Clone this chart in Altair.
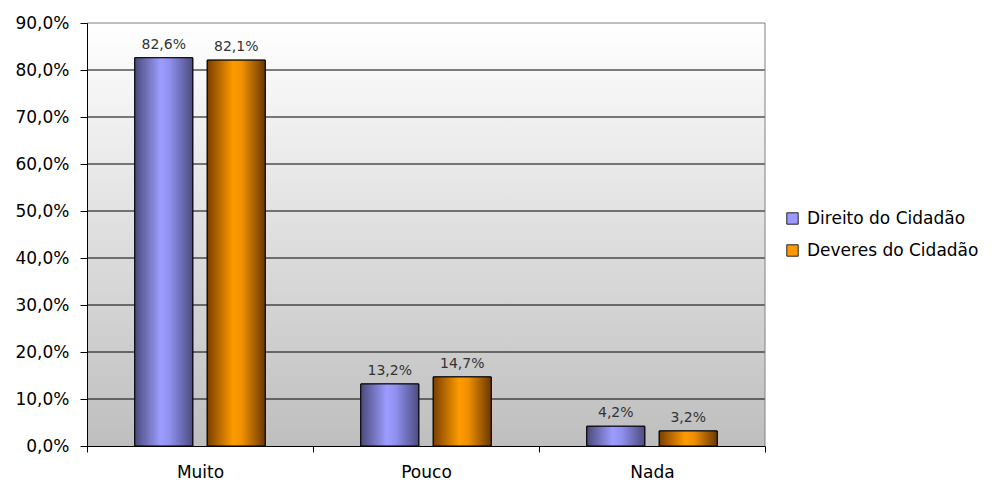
import altair as alt
import pandas as pd

categories = ["Muito", "Pouco", "Nada"]
series = ["Direito do Cidadão", "Deveres do Cidadão"]
direito = [82.6, 13.2, 4.2]
deveres = [82.1, 14.7, 3.2]
y_ticks = [0, 10, 20, 30, 40, 50, 60, 70, 80, 90]

W, H = 678, 423
FONT = "DejaVu Sans"

rows = []
for i, c in enumerate(categories):
    rows.append({"cat": c, "serie": series[0], "v": direito[i]})
    rows.append({"cat": c, "serie": series[1], "v": deveres[i]})
df = pd.DataFrame(rows)
grid_df = pd.DataFrame({"g": y_ticks[1:]})

x_enc = alt.X("cat:N", sort=categories, title=None,
              scale=alt.Scale(paddingInner=0, paddingOuter=0),
              axis=alt.Axis(labelAngle=0, tickBand="extent", tickSize=6, labelPadding=12,
                            labelFont=FONT, labelFontSize=17, labelColor="black",
                            domainColor="black", tickColor="black", grid=False, zindex=1))
y_scale = alt.Scale(domain=[0, 90], nice=False)
y_enc = alt.Y("v:Q", scale=y_scale, title=None,
              axis=alt.Axis(values=y_ticks, tickSize=7, labelPadding=11, labelFont=FONT,
                            labelFontSize=17, labelColor="black", domainColor="black",
                            tickColor="black", grid=False, zindex=1,
                            labelExpr="replace(format(datum.value, '.1f'), '.', ',') + '%'"))
xo = alt.XOffset("serie:N", sort=series, scale=alt.Scale(paddingInner=0.2, paddingOuter=0.66))

bg = alt.Chart(pd.DataFrame({"a": [0]})).mark_rect(
    color=alt.Gradient(gradient="linear", x1=0, x2=0, y1=0, y2=1,
                       stops=[alt.GradientStop(offset=0, color="#ffffff"),
                              alt.GradientStop(offset=1, color="#bebebe")])
).encode(x=alt.value(0), x2=alt.value(W), y=alt.value(0), y2=alt.value(H))

grid = alt.Chart(grid_df).mark_rule(strokeWidth=1).encode(
    y=alt.Y("g:Q", scale=y_scale),
    color=alt.condition("datum.g >= 90", alt.value("#808080"), alt.value("#000000")),
)
right_border = alt.Chart(pd.DataFrame({"a": [0]})).mark_rule(color="#808080").encode(
    x=alt.value(W), y=alt.value(0), y2=alt.value(H))

base_bars = alt.Chart(df).mark_bar(stroke="black", strokeWidth=1).encode(
    x=x_enc, xOffset=xo, y=y_enc,
    color=alt.Color("serie:N", sort=series, title=None,
                    scale=alt.Scale(domain=series, range=["#9999ff", "#ff9900"]),
                    legend=alt.Legend(orient="none", legendX=697, legendY=187,
                                      symbolType="square", symbolSize=130,
                                      symbolStrokeColor="#222222", symbolStrokeWidth=1,
                                      labelFont=FONT, labelFontSize=17, labelColor="black",
                                      labelLimit=400, rowPadding=14, labelOffset=6)),
)

grad_blue = alt.Gradient(gradient="linear", x1=0, x2=1, y1=0, y2=0, stops=[
    alt.GradientStop(offset=0, color="#4a4a7c"),
    alt.GradientStop(offset=0.45, color="#9d9dff"),
    alt.GradientStop(offset=0.6, color="#9090f0"),
    alt.GradientStop(offset=1, color="#4c4c80")])
grad_orange = alt.Gradient(gradient="linear", x1=0, x2=1, y1=0, y2=0, stops=[
    alt.GradientStop(offset=0, color="#7a3f00"),
    alt.GradientStop(offset=0.45, color="#ff9b00"),
    alt.GradientStop(offset=0.6, color="#f09000"),
    alt.GradientStop(offset=1, color="#6a3800")])

def gbar(s, g):
    return alt.Chart(df).transform_filter(alt.datum.serie == s).mark_bar(
        color=g, stroke="black", strokeWidth=1).encode(x=x_enc, xOffset=xo, y=y_enc)

labels = alt.Chart(df).transform_calculate(
    lbl="replace(format(datum.v, '.1f'), '.', ',') + '%'"
).mark_text(baseline="bottom", dy=-6, font=FONT, fontSize=14, color="#333333").encode(
    x=x_enc, xOffset=xo, y=y_enc, text="lbl:N")

chart = alt.layer(bg, grid, right_border, base_bars, gbar(series[0], grad_blue),
                  gbar(series[1], grad_orange), labels).properties(
    width=W, height=H,
    autosize=alt.AutoSizeParams(type="none"),
    padding={"left": 79, "top": 15, "right": 221, "bottom": 34},
    background="white",
).configure_view(stroke=None)

chart.save("out.html", embed_options={"renderer": "svg", "actions": False})
